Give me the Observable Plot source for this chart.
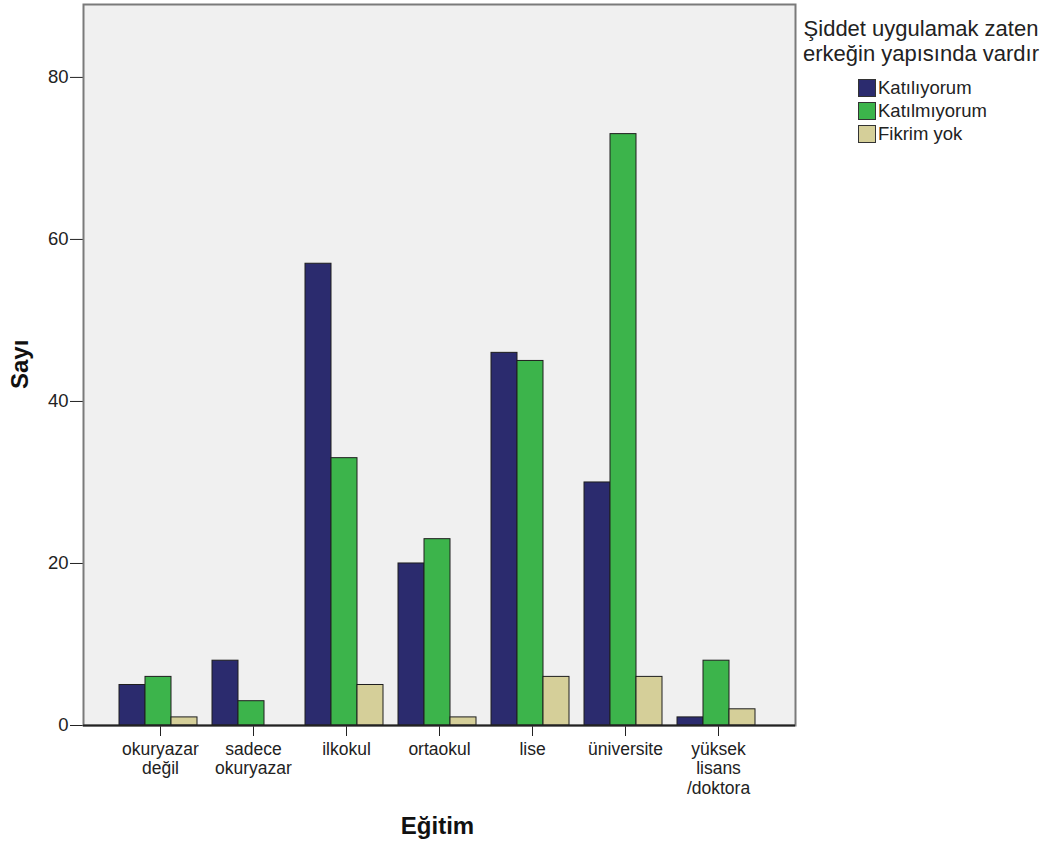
<!DOCTYPE html>
<html>
<head>
<meta charset="utf-8">
<script src="https://cdn.jsdelivr.net/npm/d3@7"></script>
<script src="https://cdn.jsdelivr.net/npm/@observablehq/plot@0.6"></script>
<style>
  body { margin: 0; background: white; font-family: "Liberation Sans", Arial, sans-serif; }
  #wrap { position: relative; width: 1051px; height: 845px; }
  #legend { position: absolute; left: 796px; top: 16px; width: 250px; color: #222; }
  #legend .title { font-size: 22px; text-align: center; line-height: 25px; white-space: nowrap; }
  #legend .items { margin-left: 62px; margin-top: 10px; }
  #legend .item { display: flex; align-items: center; height: 23px; font-size: 18.5px; }
  #legend .sw { width: 18px; height: 18px; border: 1.5px solid #333; box-sizing: border-box; margin-right: 2px; }
</style>
</head>
<body>
<div id="wrap">
  <div id="chart"></div>
  <div id="legend"></div>
</div>
<script>
const categories = ["okuryazar değil", "sadece okuryazar", "ilkokul", "ortaokul", "lise", "üniversite", "yüksek lisans /doktora"];
const categoryLabels = ["okuryazar\ndeğil", "sadece\nokuryazar", "ilkokul", "ortaokul", "lise", "üniversite", "yüksek\nlisans\n/doktora"];
const seriesNames = ["Katılıyorum", "Katılmıyorum", "Fikrim yok"];
const katiliyorum = [5, 8, 57, 20, 46, 30, 1];
const katilmiyorum = [6, 3, 33, 23, 45, 73, 8];
const fikrimYok = [1, 0, 5, 1, 6, 6, 2];
const seriesColors = ["#2b2b6e", "#3cb44b", "#d5cf99"];
const yTicks = [0, 20, 40, 60, 80];
const legendTitle = "Şiddet uygulamak zaten\nerkeğin yapısında vardır";

const seriesValues = [katiliyorum, katilmiyorum, fikrimYok];
const rows = seriesValues.map((vals, s) => categories.map((c, i) => ({category: c, series: seriesNames[s], value: vals[i]})));

const barInset = 26;
const barMarks = rows.map((data, s) => Plot.barY(data, {
  x: "category",
  y: "value",
  fill: seriesColors[s],
  stroke: "#1e1e1e",
  strokeWidth: 1,
  insetLeft: barInset,
  insetRight: barInset,
  dx: (s - 1) * 26 - 2
}));

const chart = Plot.plot({
  width: 1051,
  height: 845,
  marginLeft: 83,
  marginRight: 256,
  marginTop: 4,
  marginBottom: 120,
  style: {fontFamily: "Liberation Sans, Arial, sans-serif", fontSize: "18.5px", background: "white", color: "#222"},
  x: {domain: categories, paddingInner: 0.166, paddingOuter: 0.385, tickSize: 11, tickFormat: () => "", label: null},
  y: {domain: [0, 89], ticks: yTicks, tickSize: 13, tickPadding: 2, label: null, line: true},
  marks: [
    Plot.frame({fill: "#f0f0f0", stroke: "#7a7a7a", strokeWidth: 2}),
    ...barMarks,
    Plot.ruleY([0], {stroke: "#222", strokeWidth: 2}),
    Plot.text(categories, {x: d => d, text: (d, i) => categoryLabels[i], frameAnchor: "bottom", lineAnchor: "top", dy: 16, fontSize: 17.5, fill: "#222", lineHeight: 1.1}),
    Plot.text(["Sayı"], {frameAnchor: "left", text: d => d, rotate: -90, dx: -63, dy: 24, fontSize: 24, fontWeight: "bold", fill: "#111"}),
    Plot.text(["Eğitim"], {frameAnchor: "bottom", text: d => d, dy: 108, dx: -2, fontSize: 24, fontWeight: "bold", fill: "#111"})
  ]
});

document.getElementById("chart").appendChild(chart);

const legend = document.getElementById("legend");
legend.innerHTML = `<div class="title">${legendTitle.replace("\n", "<br>")}</div><div class="items">` +
  seriesNames.map((n, i) => `<div class="item"><div class="sw" style="background:${seriesColors[i]}"></div>${n}</div>`).join("") + `</div>`;
</script>
</body>
</html>
